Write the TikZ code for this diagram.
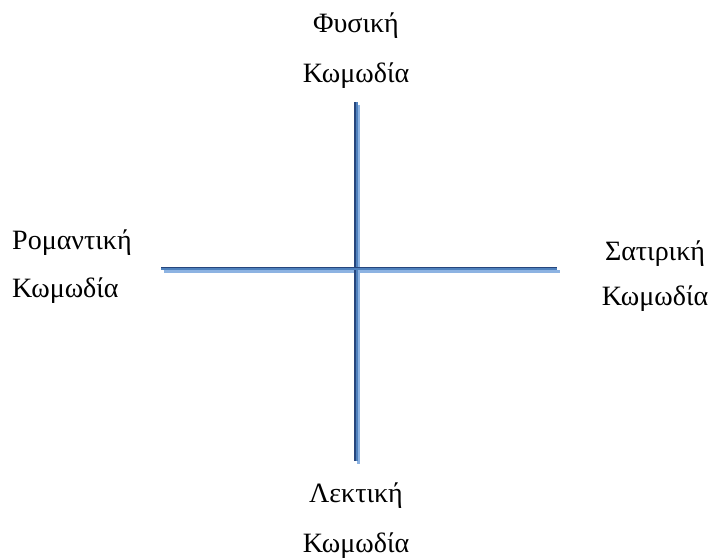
\documentclass[tikz,border=0pt]{standalone}
\usepackage{fontspec}
\setmainfont{Liberation Serif}
\definecolor{axisdark}{RGB}{38,70,125}
\definecolor{axismid}{RGB}{79,129,189}
\definecolor{axislight}{RGB}{141,179,226}
\begin{document}
\begin{tikzpicture}[x=1pt, y=-1pt,
    label/.style={align=center, font=\fontsize{28}{50}\selectfont, inner sep=0pt},
    shade/.style={draw=axislight, line width=3pt},
    mainaxis/.style={draw=axismid, line width=3.5pt},
    edge/.style={draw=axisdark, line width=1.6pt}]
    \useasboundingbox (0,0) rectangle (713,558);
    % axis end points
    \coordinate (top)    at (356,102);
    \coordinate (bottom) at (356,461);
    \coordinate (left)   at (161,268.5);
    \coordinate (right)  at (557,268.5);
    % labels (base = baseline of the last line)
    \node[label, anchor=base] (phys) at (356,82)  {Φυσική\\Κωμωδία};
    \node[label, anchor=base] (lekt) at (356,552) {Λεκτική\\Κωμωδία};
    \node[label, anchor=base west, align=left, font=\fontsize{28}{48}\selectfont] (rom) at (12,297) {Ρομαντική\\Κωμωδία};
    \node[label, anchor=base, font=\fontsize{28}{45}\selectfont] (sat) at (655,305) {Σατιρική\\Κωμωδία};
    % shadows
    \foreach \a/\b in {top/bottom, left/right}
        \draw[shade] ([shift={(2.6,2.6)}]\a) -- ([shift={(2.6,2.6)}]\b);
    % axes
    \draw[mainaxis] (top) -- (bottom);
    \draw[edge] ([xshift=-1.2pt]top) -- ([xshift=-1.2pt]bottom);
    \draw[mainaxis] (left) -- (right);
    \draw[edge] ([yshift=1.2pt]left) -- ([yshift=1.2pt]right);
\end{tikzpicture}
\end{document}
